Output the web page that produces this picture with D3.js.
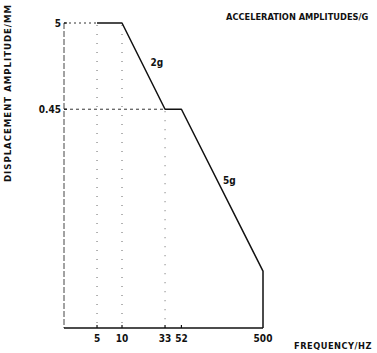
<!DOCTYPE html>
<html>
<head>
<meta charset="utf-8">
<script src="https://cdn.jsdelivr.net/npm/d3@7"></script>
<style>
  body { margin: 0; background: #fff; }
  svg text { font-family: "DejaVu Sans Condensed", "Liberation Sans Narrow", sans-serif; font-weight: bold; fill: #111; }
</style>
</head>
<body>
<svg></svg>
<script>
// Width and height of the picture
var width = 377;
var height = 353;

// vibration test profile (frequency in Hz, displacement in mm)
var freqs = [5, 10, 33, 52, 500, 500];
var disps = [5, 5, 0.45, 0.45, 0.0049, 0.001];

var xTicks = [5, 10, 33, 52, 500];
var xTickLabels = ["5", "10", "33", "52", "500"];
var yTicks = [5, 0.45];
var yTickLabels = ["5", "0.45"];

// acceleration levels written beside the sloping parts
var accelLabels = ["2g", "5g"];
var accelPos = [[22, 1.5], [165, 0.055]];   // [freq, disp] where the label sits

var svg = d3.select("svg")
    .attr("width", width)
    .attr("height", height);

// log-log scales
var x = d3.scaleLog()
    .domain([2, 500])
    .range([64, 263]);

var y = d3.scaleLog()
    .domain([0.001, 5])
    .range([328, 23]);

// guide lines (dotted)
var guides = svg.append("g")
    .attr("stroke", "#333")
    .attr("stroke-width", 1)
    .attr("fill", "none");

guides.append("line")
    .attr("x1", x(2)).attr("x2", x(5))
    .attr("y1", y(5)).attr("y2", y(5))
    .attr("stroke-dasharray", "2,3");

guides.append("line")
    .attr("x1", x(2)).attr("x2", x(33))
    .attr("y1", y(0.45)).attr("y2", y(0.45))
    .attr("stroke-dasharray", "3,3");

// vertical dotted lines under the corners
[[5, 5], [10, 5], [33, 0.45]].forEach(function(d) {
    guides.append("line")
        .attr("x1", x(d[0])).attr("x2", x(d[0]))
        .attr("y1", y(d[1]) + 2).attr("y2", y(0.001))
        .attr("stroke", "#666")
        .attr("stroke-dasharray", "1,8");
});

// y axis: broken, greyish line
svg.append("line")
    .attr("x1", x(2)).attr("x2", x(2))
    .attr("y1", y(5)).attr("y2", y(0.001))
    .attr("stroke", "#444")
    .attr("stroke-width", 1)
    .attr("stroke-dasharray", "6,2");

// x axis: solid
svg.append("line")
    .attr("x1", x(2)).attr("x2", x(500))
    .attr("y1", y(0.001)).attr("y2", y(0.001))
    .attr("stroke", "#111")
    .attr("stroke-width", 1.6);

// small x ticks
svg.selectAll(".xtick")
    .data(xTicks.slice(0, 4))
    .enter().append("line")
    .attr("class", "xtick")
    .attr("x1", function(d) { return x(d); })
    .attr("x2", function(d) { return x(d); })
    .attr("y1", y(0.001))
    .attr("y2", y(0.001) - 3)
    .attr("stroke", "#111")
    .attr("stroke-width", 1.2);

// small y ticks
svg.selectAll(".ytick")
    .data(yTicks)
    .enter().append("line")
    .attr("class", "ytick")
    .attr("x1", x(2))
    .attr("x2", x(2) + 3)
    .attr("y1", function(d) { return y(d); })
    .attr("y2", function(d) { return y(d); })
    .attr("stroke", "#111")
    .attr("stroke-width", 1.2);

// tick labels
svg.selectAll(".xlab")
    .data(xTicks)
    .enter().append("text")
    .attr("class", "xlab")
    .attr("x", function(d) { return x(d); })
    .attr("y", y(0.001) + 14)
    .attr("text-anchor", "middle")
    .style("font-size", "10px")
    .text(function(d, i) { return xTickLabels[i]; });

svg.selectAll(".ylab")
    .data(yTicks)
    .enter().append("text")
    .attr("class", "ylab")
    .attr("x", x(2) - 3)
    .attr("y", function(d) { return y(d) + 3.5; })
    .attr("text-anchor", "end")
    .style("font-size", "10px")
    .text(function(d, i) { return yTickLabels[i]; });

// the profile
var line = d3.line()
    .x(function(d) { return x(d[0]); })
    .y(function(d) { return y(d[1]); });

svg.append("path")
    .datum(freqs.map(function(f, i) { return [f, disps[i]]; }))
    .attr("d", line)
    .attr("fill", "none")
    .attr("stroke", "#111")
    .attr("stroke-width", 1.5)
    .attr("stroke-linejoin", "round");

// 2g / 5g labels
svg.selectAll(".acc")
    .data(accelLabels)
    .enter().append("text")
    .attr("class", "acc")
    .attr("x", function(d, i) { return x(accelPos[i][0]); })
    .attr("y", function(d, i) { return y(accelPos[i][1]); })
    .style("font-size", "10px")
    .text(function(d) { return d; });

// axis titles
svg.append("text")
    .attr("transform", "translate(11,93) rotate(-90)")
    .attr("text-anchor", "middle")
    .style("font-size", "9.5px")
    .style("letter-spacing", "1px")
    .text("DISPLACEMENT AMPLITUDE/MM");

svg.append("text")
    .attr("x", 226)
    .attr("y", 20)
    .style("font-size", "9.2px")
    .text("ACCELERATION AMPLITUDES/G");

svg.append("text")
    .attr("x", 294)
    .attr("y", 349)
    .style("font-size", "9.2px")
    .style("letter-spacing", "0.5px")
    .text("FREQUENCY/HZ");
</script>
</body>
</html>
